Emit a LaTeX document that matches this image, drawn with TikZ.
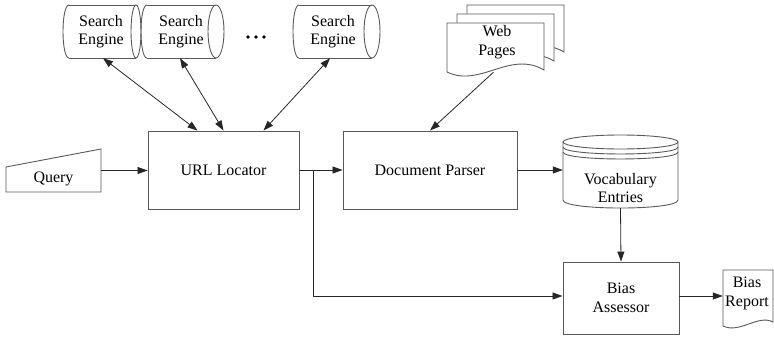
\documentclass[tikz,border=0pt]{standalone}
\usepackage{fontspec}
\setmainfont{Liberation Serif}
\usetikzlibrary{arrows.meta}

% horizontal drum from (#1,#2) to (#3,#4): left bulge, full ellipse of x radius #5 at the right end
\newcommand{\enginedrum}[5]{%
  \draw[outline] (#1+6,#2) -- (#3-#5,#2);
  \draw[outline] (#1+6,#4) -- (#3-#5,#4);
  \draw[outline] (#1+6,#2) .. controls (#1-2,#2) and (#1-2,#4) .. (#1+6,#4);
  \draw[outline] (#3-#5,{(#2+#4)/2}) ellipse [x radius={#5*1pt}, y radius={(#4-#2)/2*1pt}];
}
% one sheet of a paper stack, top-left corner at (#1,#2)
\newcommand{\pagesheet}[2]{%
  \draw[outline, fill=white] (#1,#2) -- (#1+97,#2) -- (#1+97,#2+47)
    .. controls (#1+63,#2+27) and (#1+33,#2+65) .. (#1,#2+49) -- cycle;
}

\begin{document}
\begin{tikzpicture}[x=1pt, y=-1pt,
  outline/.style={draw=black!65, line width=0.9pt},
  frame/.style={outline, shape=rectangle, inner sep=0pt},
  region/.style={shape=rectangle, inner sep=0pt},
  txt/.style={font=\fontsize{16}{18.5}\selectfont, align=center, text=black},
  conn/.style={draw=black!85, line width=0.8pt, -{Triangle[length=10pt,width=7pt]}},
  biconn/.style={draw=black!85, line width=0.8pt,
    {Triangle[length=10pt,width=7pt]}-{Triangle[length=10pt,width=7pt]}},
]
\useasboundingbox (0,0) rectangle (774,337);

% ---- search engines ----
\enginedrum{63}{5}{141}{58}{5}
\enginedrum{141}{5}{224}{58}{8}
\enginedrum{293}{5}{380}{58}{8}
\node[region, minimum width=78pt, minimum height=53pt] (se1) at (102,31.5) {};
\node[region, minimum width=83pt, minimum height=53pt] (se2) at (182.5,31.5) {};
\node[region, minimum width=87pt, minimum height=53pt] (se3) at (336.5,31.5) {};
\node[txt, inner sep=0pt] (se1-text) at (101,31.5) {Search\\Engine};
\node[txt, inner sep=0pt] (se2-text) at (181,31.5) {Search\\Engine};
\node[txt, inner sep=0pt] (se3-text) at (333,31.5) {Search\\Engine};
\foreach \dx in {248,256,264} \fill[black] (\dx,37) circle [radius=1.9pt];

% ---- web pages ----
\pagesheet{467}{5}
\pagesheet{457}{14}
\pagesheet{447}{23}
\node[region, minimum width=97pt, minimum height=49pt] (web) at (495.5,47.5) {};
\node[txt, inner sep=0pt] (web-text) at (497,42) {Web\\Pages};

% ---- query ----
\draw[outline] (6,167) -- (101,149) -- (101,192) -- (6,192) -- cycle;
\node[region, minimum width=95pt, minimum height=43pt] (query) at (53.5,170.5) {};
\node[txt, inner sep=0pt] (query-text) at (53.5,178.5) {Query};

% ---- processing boxes ----
\node[frame, txt, minimum width=151pt, minimum height=78pt] (url) at (223.5,170) {URL Locator};
\node[frame, txt, minimum width=174pt, minimum height=78pt] (parser) at (430,170) {Document Parser};
\node[frame, txt, minimum width=116pt, minimum height=72pt] (bias) at (621,298) {Bias\\Assessor};

% ---- vocabulary store ----
\draw[outline] (563,142) -- (563,200) .. controls (563,210.7) and (678,210.7) .. (678,200) -- (678,142);
\draw[outline] (620.5,142) ellipse [x radius=57.5pt, y radius=7pt];
\draw[outline] (563,147) .. controls (563,156.3) and (678,156.3) .. (678,147);
\draw[outline] (563,152) .. controls (563,161.3) and (678,161.3) .. (678,152);
\node[region, minimum width=115pt, minimum height=73pt] (voc) at (620.5,171.5) {};
\node[txt, inner sep=0pt] (voc-text) at (620.5,188) {Vocabulary\\Entries};

% ---- bias report ----
\draw[outline] (723,326) -- (723,270) -- (773,270) -- (773,322)
  .. controls (758,314) and (740,334) .. (723,326);
\node[region, minimum width=50pt, minimum height=56pt] (report) at (748,298) {};
\node[txt, inner sep=0pt] (report-text) at (747,293.5) {Bias\\Report};

% ---- connectors ----
\draw[biconn] ([xshift=-26pt]url.north) -- ([xshift=1pt]se1.south);
\draw[biconn] (url.north) -- ([xshift=-2.5pt]se2.south);
\draw[biconn] ([xshift=40pt]url.north) -- ([xshift=-6.5pt]se3.south);
\draw[conn] ([xshift=-2pt]web.south) -- (parser.north);
\draw[conn] (query.east) -- (query.east -| url.west);
\draw[conn] (url.east) -- (parser.west);
\draw[conn] ([xshift=14pt]url.east) |- ([yshift=2pt]bias.west);
\draw[conn] (parser.east) -- (parser.east -| voc.west);
\draw[conn] (voc.south) -- (bias.north);
\draw[conn] ([yshift=2pt]bias.east) -- ([yshift=2pt]bias.east -| report.west);
\end{tikzpicture}
\end{document}
